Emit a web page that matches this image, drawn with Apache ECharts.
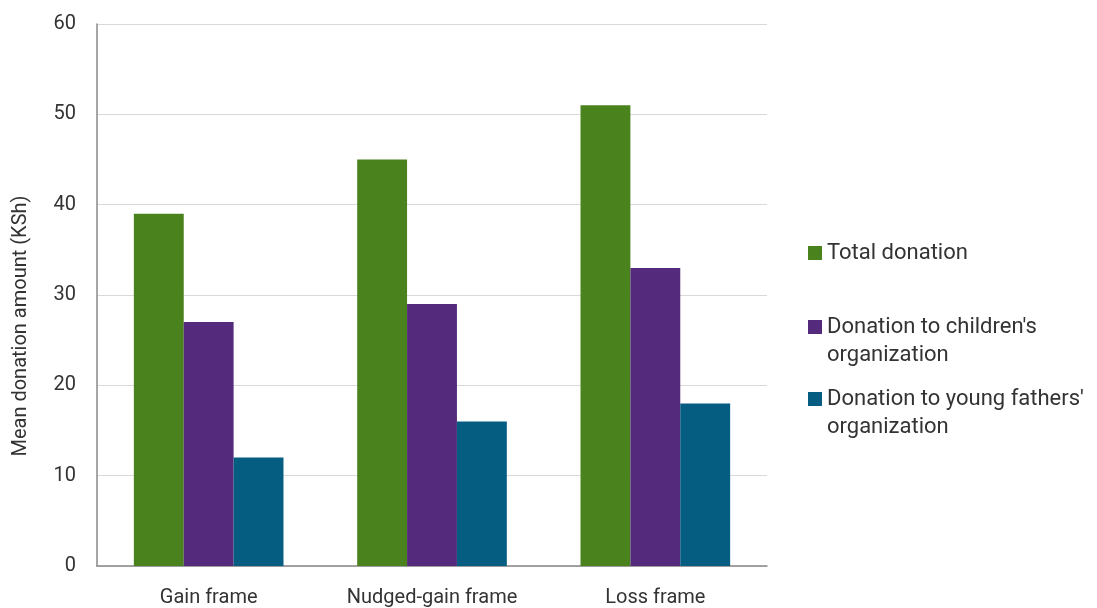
<!DOCTYPE html>
<html><head><meta charset="utf-8">
<script src="https://cdn.jsdelivr.net/npm/echarts@6/dist/echarts.min.js"></script>
<style>html,body{margin:0;padding:0;background:#fff}#c{width:1097px;height:608px}</style>
</head><body><div id="c"></div>
<script>
const categories = ["Gain frame", "Nudged-gain frame", "Loss frame"];
const totalDonation = [39, 45, 51];
const childrenDonation = [27, 29, 33];
const fathersDonation = [12, 16, 18];
const seriesNames = ["Total donation", "Donation to children's\norganization", "Donation to young fathers'\norganization"];
const yTicks = [0, 10, 20, 30, 40, 50, 60];

const font = "Roboto";
const txt = "#333333";
const colors = ["#4a821e", "#542a7c", "#065d82"];
const iconTall = 'path://M0,0H14V14H0Z M0,41.95H0.05V42H0Z';

const chart = echarts.init(document.getElementById('c'));
function leg(name, top, tall) {
  return {
    data: [name], left: 808, top: top, orient: 'vertical',
    itemWidth: 14, itemHeight: tall ? 42 : 14, icon: tall ? iconTall : 'rect',
    selectedMode: false, padding: 0,
    textStyle: { fontFamily: font, fontSize: 22, color: txt, lineHeight: 28 }
  };
}
chart.setOption({
  animation: false,
  color: colors,
  textStyle: { fontFamily: font },
  grid: { left: 97, right: 330, top: 24, bottom: 42 },
  legend: [leg(seriesNames[0], 239, false), leg(seriesNames[1], 313, true), leg(seriesNames[2], 385, true)],
  xAxis: {
    type: 'category', data: categories,
    axisLine: { lineStyle: { color: '#888888', width: 1.5 } },
    axisTick: { show: false },
    axisLabel: { fontFamily: font, fontSize: 20, color: txt, margin: 22 }
  },
  yAxis: {
    type: 'value', min: yTicks[0], max: yTicks[yTicks.length - 1], interval: 10,
    name: 'Mean donation amount (KSh)', nameLocation: 'middle', nameGap: 66,
    nameTextStyle: { fontFamily: font, fontSize: 20, color: txt, padding: [0, 62, 0, 0] },
    axisLine: { show: true, lineStyle: { color: '#888888', width: 1.5 } },
    axisTick: { show: false },
    splitLine: { lineStyle: { color: '#d9d9d9', width: 1 } },
    axisLabel: { fontFamily: font, fontSize: 20, color: txt, margin: 21 }
  },
  series: [
    { name: seriesNames[0], type: 'bar', data: totalDonation, barGap: '0%', barCategoryGap: '33%' },
    { name: seriesNames[1], type: 'bar', data: childrenDonation },
    { name: seriesNames[2], type: 'bar', data: fathersDonation }
  ]
});
</script></body></html>
